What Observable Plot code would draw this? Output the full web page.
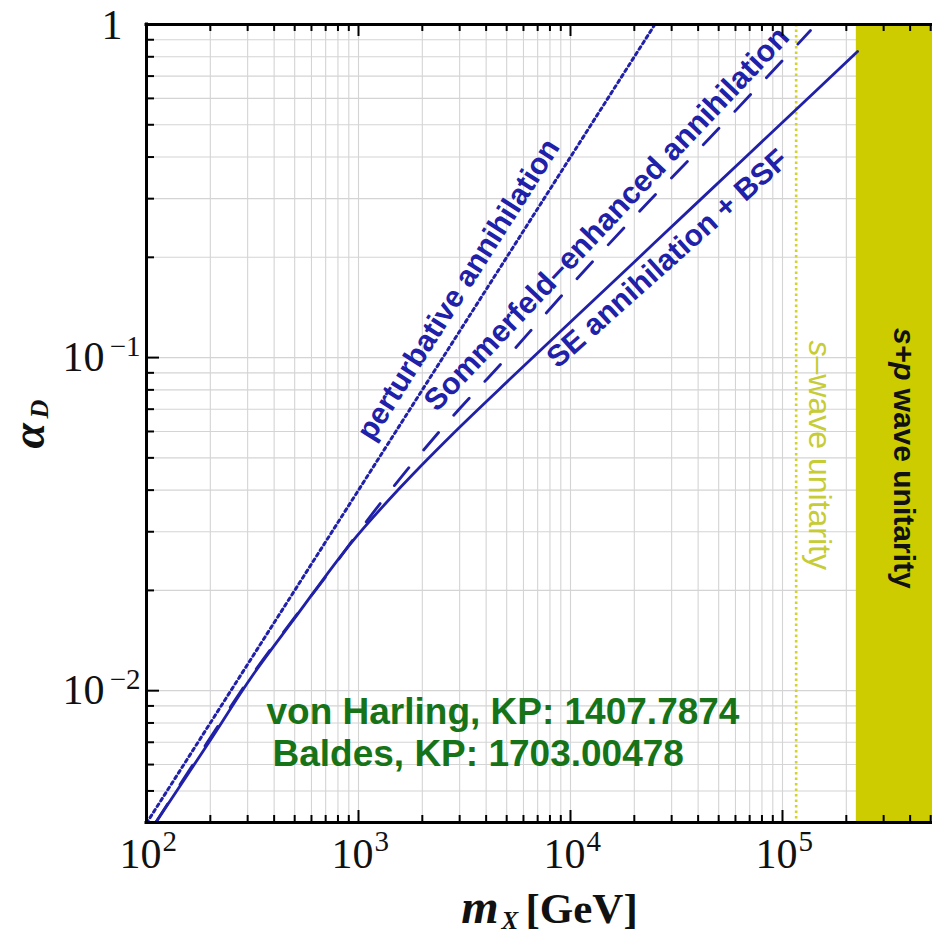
<!DOCTYPE html>
<html><head><meta charset="utf-8">
<script src="https://cdn.jsdelivr.net/npm/d3@7"></script>
<script src="https://cdn.jsdelivr.net/npm/@observablehq/plot@0.6"></script>
<style>body{margin:0;background:#fff}</style>
</head><body><div id="chart"></div>
<script>
// ---- data ----
const xDomain = [100, 510000];
const yDomain = [0.00402, 1];

const pertMass  = [100, 25000];
const pertAlpha = [0.004, 1];

const sommMass  = [110, 310, 500, 698, 1297, 2546, 5105, 10120, 20700, 42400, 85900, 135500];
const sommAlpha = [0.004, 0.011, 0.0166, 0.0219, 0.0372, 0.0625, 0.1014, 0.1656, 0.2707, 0.436, 0.703, 0.959];

const bsfMass  = [110, 200, 310, 500, 916, 1578, 2716, 5213, 10000, 20000, 41000, 115000, 226000];
const bsfAlpha = [0.004, 0.0071, 0.0109, 0.0165, 0.0276, 0.0408, 0.0581, 0.0865, 0.1278, 0.1937, 0.298, 0.553, 0.83];

const sWaveMass = [116000];
const spBandStart = [223000];
const spBandEnd = [1e6];

const xMajor = [1e2, 1e3, 1e4, 1e5];
const xTickBase = ["10", "10", "10", "10"];
const xTickExp = ["2", "3", "4", "5"];
const yMajor = [0.01, 0.1];
const yTickBase = ["10", "10"];
const yTickExp = ["\u22122", "\u22121"];
const yTop = [1];
const yTopLabel = ["1"];

const curveLabels = ["perturbative annihilation", "Sommerfeld\u2013enhanced annihilation", "SE annihilation + BSF"];
const curveLabelMass = [2963, 14830, 28680];
const curveLabelAlpha = [0.160, 0.261, 0.198];

const swaveLabelMass = [149500];
const spLabelMass = [372000];
const unitarityLabelAlpha = [0.0501];

const credits = ["von Harling, KP: 1407.7874", "Baldes, KP: 1703.00478"];
const creditMass = [368, 393];
const creditAlpha = [0.00796, 0.00595];

// ---- layout ----
const W = 932, H = 935, mL = 146, mR = 0, mT = 24, mB = 113;
const PW = W - mL - mR, PH = H - mT - mB;
const blue = "#2020a8";
const sans = "Liberation Sans, Arial, sans-serif";
const serif = "Liberation Serif, Times New Roman, serif";

const pts = (xs, ys) => xs.map((x, i) => ({m: x, a: ys[i]}));
const xAll = d3.scaleLog().domain(xDomain).ticks();
const yAll = d3.scaleLog().domain(yDomain).ticks();
const isMajor = v => Math.abs(Math.log10(v) - Math.round(Math.log10(v))) < 1e-9;
const xMinor = xAll.filter(v => !isMajor(v));
const yMinor = yAll.filter(v => !isMajor(v));
const yMajAll = yAll.filter(isMajor);

const band = spBandStart.map((s, i) => ({x1: s, x2: spBandEnd[i]}));

const chart = Plot.plot({
  width: W, height: H,
  marginLeft: mL, marginRight: mR, marginTop: mT, marginBottom: mB,
  x: {type: "log", domain: xDomain, axis: null},
  y: {type: "log", domain: yDomain, axis: null},
  style: {background: "white", fontFamily: sans, overflow: "visible"},
  marks: [
    Plot.gridX(xAll, {stroke: "#d4d4d4", strokeOpacity: 1, strokeWidth: 1.1}),
    Plot.gridY(yAll, {stroke: "#d4d4d4", strokeOpacity: 1, strokeWidth: 1.1}),
    Plot.rect(band, {x1: "x1", x2: "x2", fill: "#cccc00", clip: true}),
    Plot.ruleX(sWaveMass, {stroke: "#d4d428", strokeWidth: 2.6, strokeDasharray: "2.5,3"}),
    Plot.line(pts(pertMass, pertAlpha), {x: "m", y: "a", stroke: blue, strokeWidth: 3, strokeDasharray: "3,3.6", clip: true}),
    Plot.line(pts(sommMass, sommAlpha), {x: "m", y: "a", stroke: blue, strokeWidth: 2.8, strokeDasharray: "23,23", curve: "catmull-rom", clip: true}),
    Plot.line(pts(bsfMass, bsfAlpha), {x: "m", y: "a", stroke: blue, strokeWidth: 2.8, curve: "catmull-rom", clip: true}),
    // curve labels
    Plot.text([0], {x: () => curveLabelMass[0], y: () => curveLabelAlpha[0], text: () => curveLabels[0], rotate: -57.5, fill: blue, fontSize: 30, fontWeight: "bold", fontFamily: sans}),
    Plot.text([1], {x: () => curveLabelMass[1], y: () => curveLabelAlpha[1], text: () => curveLabels[1], rotate: -46.6, fill: blue, fontSize: 30.5, fontWeight: "bold", fontFamily: sans}),
    Plot.text([2], {x: () => curveLabelMass[2], y: () => curveLabelAlpha[2], text: () => curveLabels[2], rotate: -41.7, fill: blue, fontSize: 30, fontWeight: "bold", fontFamily: sans}),
    // unitarity labels
    Plot.text(swaveLabelMass, {x: d => d, y: () => unitarityLabelAlpha[0], text: () => "s", rotate: 90, textAnchor: "end", dy: -101, fill: "#c6cc36", fontSize: 32, fontStyle: "italic", fontFamily: sans}),
    Plot.text(swaveLabelMass, {x: d => d, y: () => unitarityLabelAlpha[0], text: () => "\u2013wave unitarity", rotate: 90, textAnchor: "start", dy: -101, fill: "#c6cc36", fontSize: 32, fontFamily: sans}),
    Plot.text(spLabelMass, {x: d => d, y: () => unitarityLabelAlpha[0], text: () => "s+p", rotate: 90, textAnchor: "end", dy: -77, fill: "#111", fontSize: 30, fontWeight: "bold", fontStyle: "italic", fontFamily: sans}),
    Plot.text(spLabelMass, {x: d => d, y: () => unitarityLabelAlpha[0], text: () => "wave unitarity", rotate: 90, textAnchor: "start", dy: -69, fill: "#111", fontSize: 30, fontWeight: "bold", fontFamily: sans}),
    // credits
    Plot.text(credits, {x: (d, i) => creditMass[i], y: (d, i) => creditAlpha[i], text: d => d, textAnchor: "start", lineAnchor: "bottom", fill: "#177317", fontSize: 37, fontWeight: "bold", fontFamily: sans}),
    // ticks
    Plot.tickX(xMinor, {x: d => d, stroke: "#000", strokeWidth: 2, insetTop: PH - 7}),
    Plot.tickX(xMajor, {x: d => d, stroke: "#000", strokeWidth: 2, insetTop: PH - 12}),
    Plot.tickX(xMinor, {x: d => d, stroke: "#000", strokeWidth: 2, insetBottom: PH - 7}),
    Plot.tickX(xMajor, {x: d => d, stroke: "#000", strokeWidth: 2, insetBottom: PH - 12}),
    Plot.tickY(yMinor, {y: d => d, stroke: "#000", strokeWidth: 2, insetRight: PW - 8}),
    Plot.tickY(yMajAll, {y: d => d, stroke: "#000", strokeWidth: 2, insetRight: PW - 13}),
    // frame (left, bottom, top)
    Plot.ruleX([xDomain[0]], {stroke: "#000", strokeWidth: 3, strokeLinecap: "square"}),
    Plot.ruleY([yDomain[0]], {stroke: "#000", strokeWidth: 3, strokeLinecap: "square"}),
    Plot.ruleY([yDomain[1]], {stroke: "#000", strokeWidth: 3, strokeLinecap: "square"}),
    // x tick labels
    Plot.text(xMajor, {x: d => d, text: (d, i) => xTickBase[i], frameAnchor: "bottom", dy: 45, dx: 15, textAnchor: "end", lineAnchor: "bottom", fontSize: 42, fontFamily: serif, fill: "#111"}),
    Plot.text(xMajor, {x: d => d, text: (d, i) => xTickExp[i], frameAnchor: "bottom", dy: 28, dx: 16, textAnchor: "start", lineAnchor: "bottom", fontSize: 29, fontFamily: serif, fill: "#111"}),
    // y tick labels
    Plot.text(yMajor, {y: d => d, text: (d, i) => yTickBase[i], frameAnchor: "left", dx: -42, dy: 13, textAnchor: "end", lineAnchor: "bottom", fontSize: 42, fontFamily: serif, fill: "#111"}),
    Plot.text(yMajor, {y: d => d, text: (d, i) => yTickExp[i], frameAnchor: "left", dx: -6, dy: -2, textAnchor: "end", lineAnchor: "bottom", fontSize: 29, fontFamily: serif, fill: "#111"}),
    Plot.text(yTop, {y: d => d, text: (d, i) => yTopLabel[i], frameAnchor: "left", dx: -24, dy: 14, textAnchor: "end", lineAnchor: "bottom", fontSize: 42, fontFamily: serif, fill: "#111"}),
    // axis titles
    Plot.text(["m"], {text: d => d, frameAnchor: "bottom", dx: -41, dy: 100, textAnchor: "end", lineAnchor: "bottom", fontSize: 48, fontWeight: "bold", fontStyle: "italic", fontFamily: serif, fill: "#111"}),
    Plot.text(["X"], {text: d => d, frameAnchor: "bottom", dx: -38, dy: 106, textAnchor: "start", lineAnchor: "bottom", fontSize: 25, fontWeight: "bold", fontStyle: "italic", fontFamily: serif, fill: "#111"}),
    Plot.text(["[GeV]"], {text: d => d, frameAnchor: "bottom", dx: -14, dy: 100, textAnchor: "start", lineAnchor: "bottom", fontSize: 43, fontWeight: "bold", fontFamily: serif, fill: "#111"}),
    Plot.text(["\u03b1"], {text: d => d, frameAnchor: "left", dx: -103, dy: 25, rotate: -90, textAnchor: "start", lineAnchor: "bottom", fontSize: 46, fontWeight: "bold", fontStyle: "italic", fontFamily: serif, fill: "#111"}),
    Plot.text(["D"], {text: d => d, frameAnchor: "left", dx: -99, dy: -5, rotate: -90, textAnchor: "start", lineAnchor: "bottom", fontSize: 26, fontWeight: "bold", fontStyle: "italic", fontFamily: serif, fill: "#111"})
  ]
});
document.getElementById("chart").appendChild(chart);
</script>
</body></html>
